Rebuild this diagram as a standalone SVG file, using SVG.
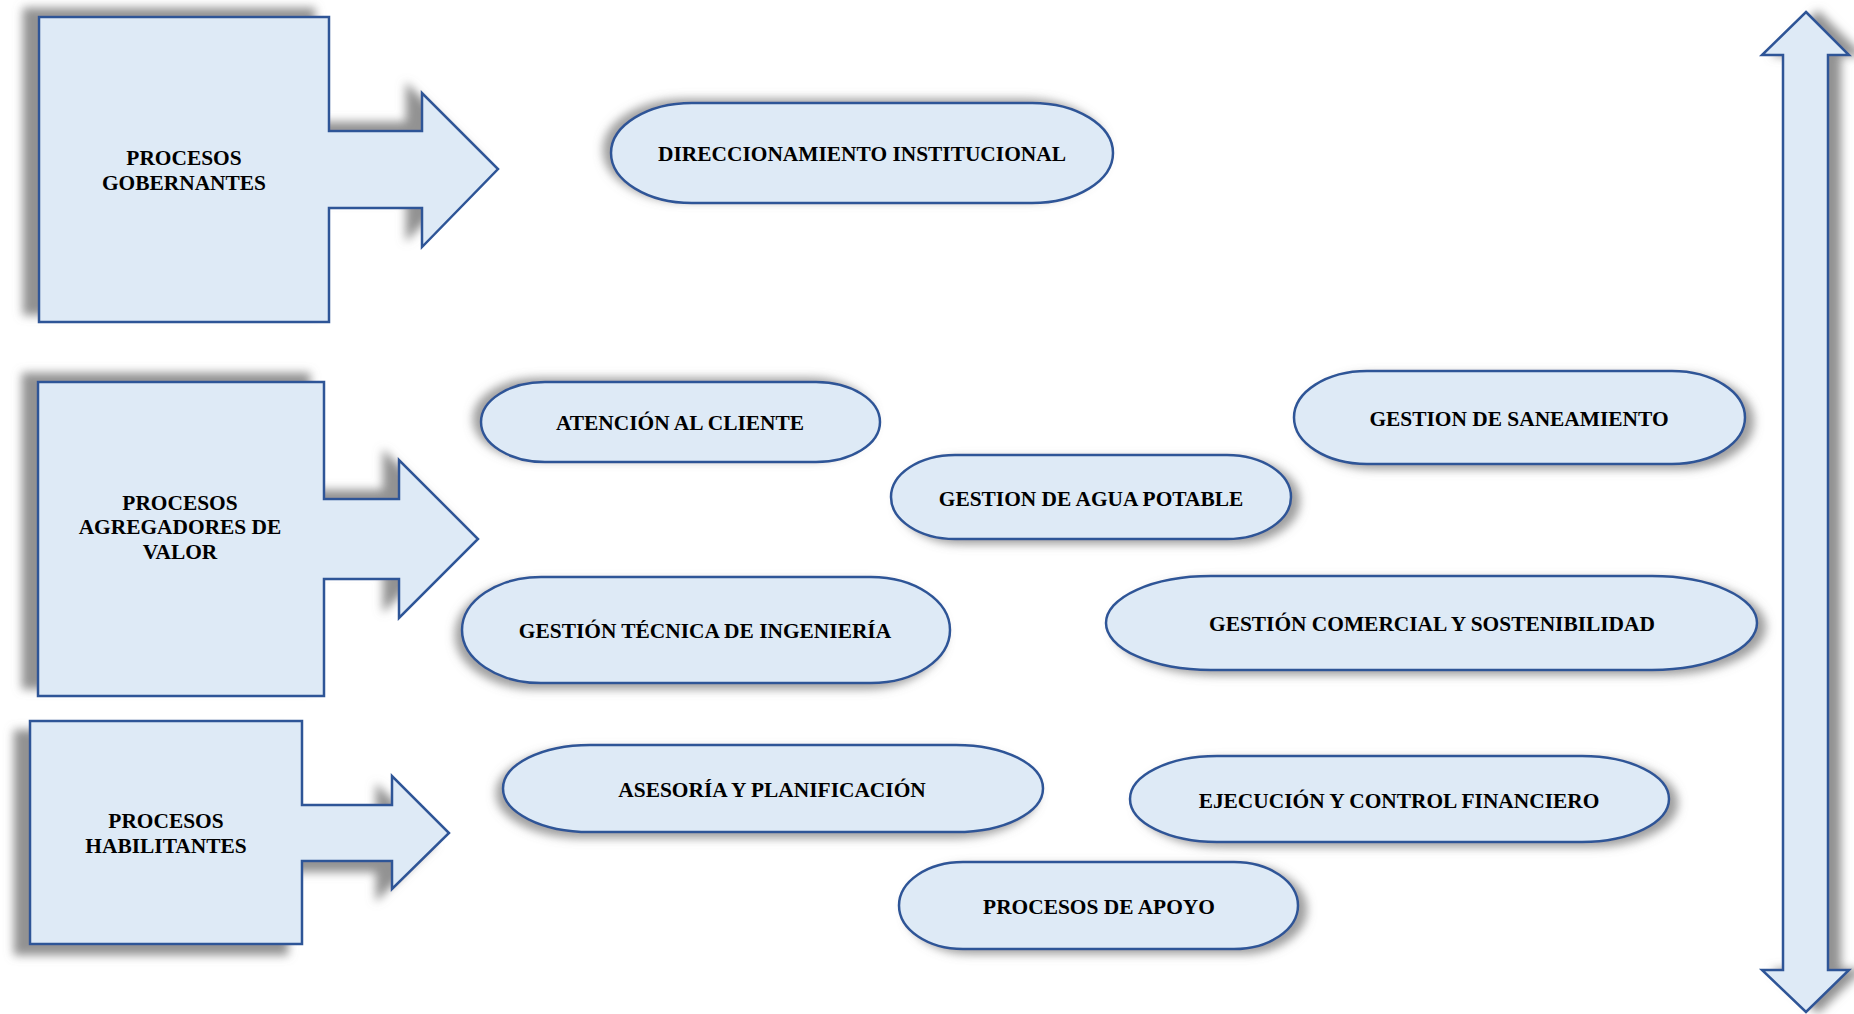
<svg xmlns="http://www.w3.org/2000/svg" width="1854" height="1014" viewBox="0 0 1854 1014">
<style>
.shape{fill:#DEEAF6;stroke:#2F5597;stroke-width:2.5;stroke-linejoin:miter}
.lbl{font-family:"Liberation Serif","Times New Roman",serif;font-weight:bold;font-size:21.4px;fill:#000;text-anchor:middle}
</style>
<defs>
<filter id="shBox" x="-20%" y="-20%" width="140%" height="140%">
<feGaussianBlur in="SourceAlpha" stdDeviation="5"/>
<feOffset dx="-15" dy="-8" result="b"/>
<feFlood flood-color="#7f7f7f" flood-opacity="0.85"/>
<feComposite in2="b" operator="in"/>
<feMerge><feMergeNode/><feMergeNode in="SourceGraphic"/></feMerge>
</filter>
<filter id="shBox3" x="-20%" y="-20%" width="140%" height="140%">
<feGaussianBlur in="SourceAlpha" stdDeviation="5"/>
<feOffset dx="-15" dy="10" result="b"/>
<feFlood flood-color="#7f7f7f" flood-opacity="0.85"/>
<feComposite in2="b" operator="in"/>
<feMerge><feMergeNode/><feMergeNode in="SourceGraphic"/></feMerge>
</filter>
<filter id="shL" x="-20%" y="-40%" width="140%" height="180%">
<feGaussianBlur in="SourceAlpha" stdDeviation="5"/>
<feOffset dx="-7" dy="-3" result="b"/>
<feFlood flood-color="#7f7f7f" flood-opacity="0.75"/>
<feComposite in2="b" operator="in"/>
<feMerge><feMergeNode/><feMergeNode in="SourceGraphic"/></feMerge>
</filter>
<filter id="shLB" x="-20%" y="-40%" width="140%" height="180%">
<feGaussianBlur in="SourceAlpha" stdDeviation="5"/>
<feOffset dx="-6" dy="5" result="b"/>
<feFlood flood-color="#7f7f7f" flood-opacity="0.75"/>
<feComposite in2="b" operator="in"/>
<feMerge><feMergeNode/><feMergeNode in="SourceGraphic"/></feMerge>
</filter>
<filter id="shR" x="-20%" y="-40%" width="140%" height="180%">
<feGaussianBlur in="SourceAlpha" stdDeviation="5"/>
<feOffset dx="8" dy="4" result="b"/>
<feFlood flood-color="#7f7f7f" flood-opacity="0.75"/>
<feComposite in2="b" operator="in"/>
<feMerge><feMergeNode/><feMergeNode in="SourceGraphic"/></feMerge>
</filter>
<filter id="shV" x="-100%" y="-10%" width="300%" height="120%">
<feGaussianBlur in="SourceAlpha" stdDeviation="5"/>
<feOffset dx="12" dy="0" result="b"/>
<feFlood flood-color="#7f7f7f" flood-opacity="0.85"/>
<feComposite in2="b" operator="in"/>
<feMerge><feMergeNode/><feMergeNode in="SourceGraphic"/></feMerge>
</filter>
</defs>

<g id="connectors">
<path id="double-arrow" class="shape" filter="url(#shV)" d="M1806,12 L1849,55 L1828,55 L1828,970 L1849,970 L1806,1012 L1762,970 L1783,970 L1783,55 L1762,55 Z"/>
</g>

<g id="procesos-gobernantes">
<path class="shape" filter="url(#shBox)" d="M39,17 H329 V131 H422 V93 L498,169 L422,247 V208 H329 V322 H39 Z"/>
<text class="lbl" x="184" y="165">PROCESOS</text>
<text class="lbl" x="184" y="190">GOBERNANTES</text>
</g>

<g id="procesos-agregadores">
<path class="shape" filter="url(#shBox)" d="M38,382 H324 V499 H399 V460 L478,539 L399,618 V579 H324 V696 H38 Z"/>
<text class="lbl" x="180" y="510">PROCESOS</text>
<text class="lbl" x="180" y="534">AGREGADORES DE</text>
<text class="lbl" x="180" y="559">VALOR</text>
</g>

<g id="procesos-habilitantes">
<path class="shape" filter="url(#shBox3)" d="M30,721 H302 V805 H392 V776 L449,833 L392,889 V861 H302 V944 H30 Z"/>
<text class="lbl" x="166" y="828">PROCESOS</text>
<text class="lbl" x="166" y="853">HABILITANTES</text>
</g>

<g id="direccionamiento">
<path class="shape" filter="url(#shL)" d="M692,103 H1032 A81,50 0 0 1 1032,203 H692 A81,50 0 0 1 692,103 Z"/>
<text class="lbl" x="862" y="161">DIRECCIONAMIENTO INSTITUCIONAL</text>
</g>

<g id="atencion-cliente">
<path class="shape" filter="url(#shL)" d="M545,382 H816 A64,40 0 0 1 816,462 H545 A64,40 0 0 1 545,382 Z"/>
<text class="lbl" x="680" y="430">ATENCIÓN AL CLIENTE</text>
</g>

<g id="agua-potable">
<path class="shape" filter="url(#shR)" d="M955,455 H1227 A64,42 0 0 1 1227,539 H955 A64,42 0 0 1 955,455 Z"/>
<text class="lbl" x="1091" y="506">GESTION DE AGUA POTABLE</text>
</g>

<g id="saneamiento">
<path class="shape" filter="url(#shR)" d="M1367,371 H1672 A73,46.5 0 0 1 1672,464 H1367 A73,46.5 0 0 1 1367,371 Z"/>
<text class="lbl" x="1519" y="426">GESTION DE SANEAMIENTO</text>
</g>

<g id="tecnica-ingenieria">
<path class="shape" filter="url(#shLB)" d="M541,577 H871 A79,53 0 0 1 871,683 H541 A79,53 0 0 1 541,577 Z"/>
<text class="lbl" x="705" y="638">GESTIÓN TÉCNICA DE INGENIERÍA</text>
</g>

<g id="comercial-sostenibilidad">
<path class="shape" filter="url(#shR)" d="M1211,576 H1652 A105,47 0 0 1 1652,670 H1211 A105,47 0 0 1 1211,576 Z"/>
<text class="lbl" x="1432" y="631">GESTIÓN COMERCIAL Y SOSTENIBILIDAD</text>
</g>

<g id="asesoria-planificacion">
<path class="shape" filter="url(#shLB)" d="M590,745 H956 A87,43.5 0 0 1 956,832 H590 A87,43.5 0 0 1 590,745 Z"/>
<text class="lbl" x="772" y="797">ASESORÍA Y PLANIFICACIÓN</text>
</g>

<g id="ejecucion-control">
<path class="shape" filter="url(#shR)" d="M1217,756 H1582 A87,43 0 0 1 1582,842 H1217 A87,43 0 0 1 1217,756 Z"/>
<text class="lbl" x="1399" y="808">EJECUCIÓN Y CONTROL FINANCIERO</text>
</g>

<g id="procesos-apoyo">
<path class="shape" filter="url(#shR)" d="M963,862 H1234 A64,43.5 0 0 1 1234,949 H963 A64,43.5 0 0 1 963,862 Z"/>
<text class="lbl" x="1099" y="914">PROCESOS DE APOYO</text>
</g>
</svg>
